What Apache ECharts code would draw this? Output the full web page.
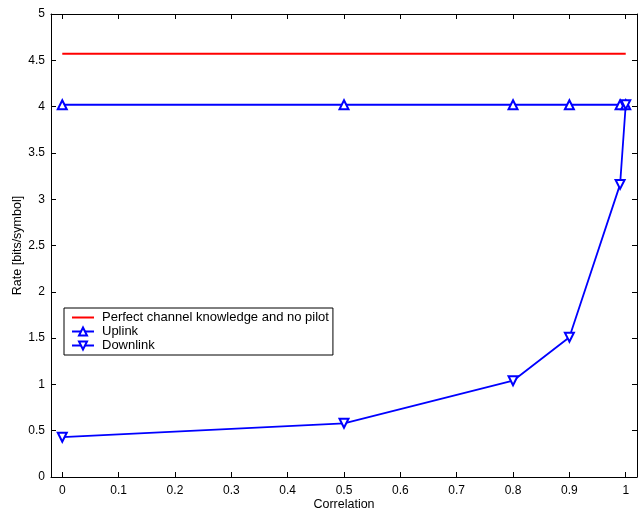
<!DOCTYPE html>
<html>
<head>
<meta charset="utf-8">
<script src="https://cdn.jsdelivr.net/npm/echarts@6/dist/echarts.min.js"></script>
<style>
    html, body { margin: 0; padding: 0; background: #fff; }
    #chart { width: 643px; height: 510px; }
</style>
</head>
<body>
<div id="chart"></div>
<script>
    // 数据
    const correlation = [0, 0.5, 0.8, 0.9, 0.99, 1];
    const perfectX = [0, 1];
    const perfectRate = [4.57, 4.57];
    const uplinkRate = [4.02, 4.02, 4.02, 4.02, 4.02, 4.02];
    const downlinkRate = [0.43, 0.58, 1.04, 1.51, 3.16, 4.02];
    const xTicks = [0, 0.1, 0.2, 0.3, 0.4, 0.5, 0.6, 0.7, 0.8, 0.9, 1];

    const font = 'Liberation Sans, Arial, sans-serif';
    const pair = (xs, ys) => xs.map((x, i) => [x, ys[i]]);

    const chart = echarts.init(document.getElementById('chart'));
    const option = {
        animation: false,
        grid: { left: 51, right: 6, top: 14, bottom: 33, outerBoundsMode: 'none' },
        legend: {
            orient: 'vertical',
            left: 64,
            top: 308,
            itemGap: 1,
            itemWidth: 22,
            itemHeight: 10,
            padding: [3, 4, 3, 7],
            borderColor: '#000',
            borderWidth: 1,
            backgroundColor: '#fff',
            textStyle: { fontFamily: font, fontSize: 13, color: '#000', padding: [0, 0, 0, 3] },
            data: [
                { name: 'Perfect channel knowledge and no pilot', itemStyle: { opacity: 0 } },
                'Uplink',
                'Downlink'
            ]
        },
        xAxis: [
            {
                type: 'value',
                min: -0.02,
                max: 1.02,
                name: 'Correlation',
                nameLocation: 'middle',
                nameGap: 21,
                nameMoveOverlap: false,
                nameTextStyle: { fontFamily: font, fontSize: 12.5, color: '#000' },
                splitLine: { show: false },
                axisLine: { onZero: false, lineStyle: { color: '#000', width: 1 } },
                axisTick: { inside: true, length: 5, customValues: xTicks, lineStyle: { color: '#000' } },
                axisLabel: { customValues: xTicks, fontFamily: font, fontSize: 12, color: '#000', margin: 8 }
            },
            {
                type: 'value',
                position: 'top',
                min: -0.02,
                max: 1.02,
                splitLine: { show: false },
                axisLine: { onZero: false, lineStyle: { color: '#000' } },
                axisTick: { inside: true, length: 5, customValues: xTicks, lineStyle: { color: '#000' } },
                axisLabel: { show: false }
            }
        ],
        yAxis: [
            {
                type: 'value',
                min: 0,
                max: 5,
                interval: 0.5,
                name: 'Rate [bits/symbol]',
                nameLocation: 'middle',
                nameGap: 27,
                nameMoveOverlap: false,
                nameTextStyle: { fontFamily: font, fontSize: 12.5, color: '#000' },
                splitLine: { show: false },
                axisLine: { show: true, onZero: false, lineStyle: { color: '#000' } },
                axisTick: { show: true, inside: true, length: 5, lineStyle: { color: '#000' } },
                axisLabel: { fontFamily: font, fontSize: 12, color: '#000', margin: 6 }
            },
            {
                type: 'value',
                position: 'right',
                min: 0,
                max: 5,
                interval: 0.5,
                splitLine: { show: false },
                axisLine: { show: true, onZero: false, lineStyle: { color: '#000' } },
                axisTick: { show: true, inside: true, length: 5, lineStyle: { color: '#000' } },
                axisLabel: { show: false }
            }
        ],
        series: [
            {
                name: 'Perfect channel knowledge and no pilot',
                type: 'line',
                data: pair(perfectX, perfectRate),
                symbol: 'none',
                color: '#ff0000',
                lineStyle: { color: '#ff0000', width: 2 }
            },
            {
                name: 'Uplink',
                type: 'line',
                data: pair(correlation, uplinkRate),
                symbol: 'emptyTriangle',
                symbolSize: 9,
                color: '#0000ff',
                lineStyle: { color: '#0000ff', width: 1.8 },
                itemStyle: { color: '#0000ff', borderColor: '#0000ff', borderWidth: 1.5 }
            },
            {
                name: 'Downlink',
                type: 'line',
                data: pair(correlation, downlinkRate),
                symbol: 'emptyTriangle',
                symbolRotate: 180,
                symbolSize: 9,
                color: '#0000ff',
                lineStyle: { color: '#0000ff', width: 1.8 },
                itemStyle: { color: '#0000ff', borderColor: '#0000ff', borderWidth: 1.5 }
            }
        ]
    };
    chart.setOption(option);
</script>
</body>
</html>
